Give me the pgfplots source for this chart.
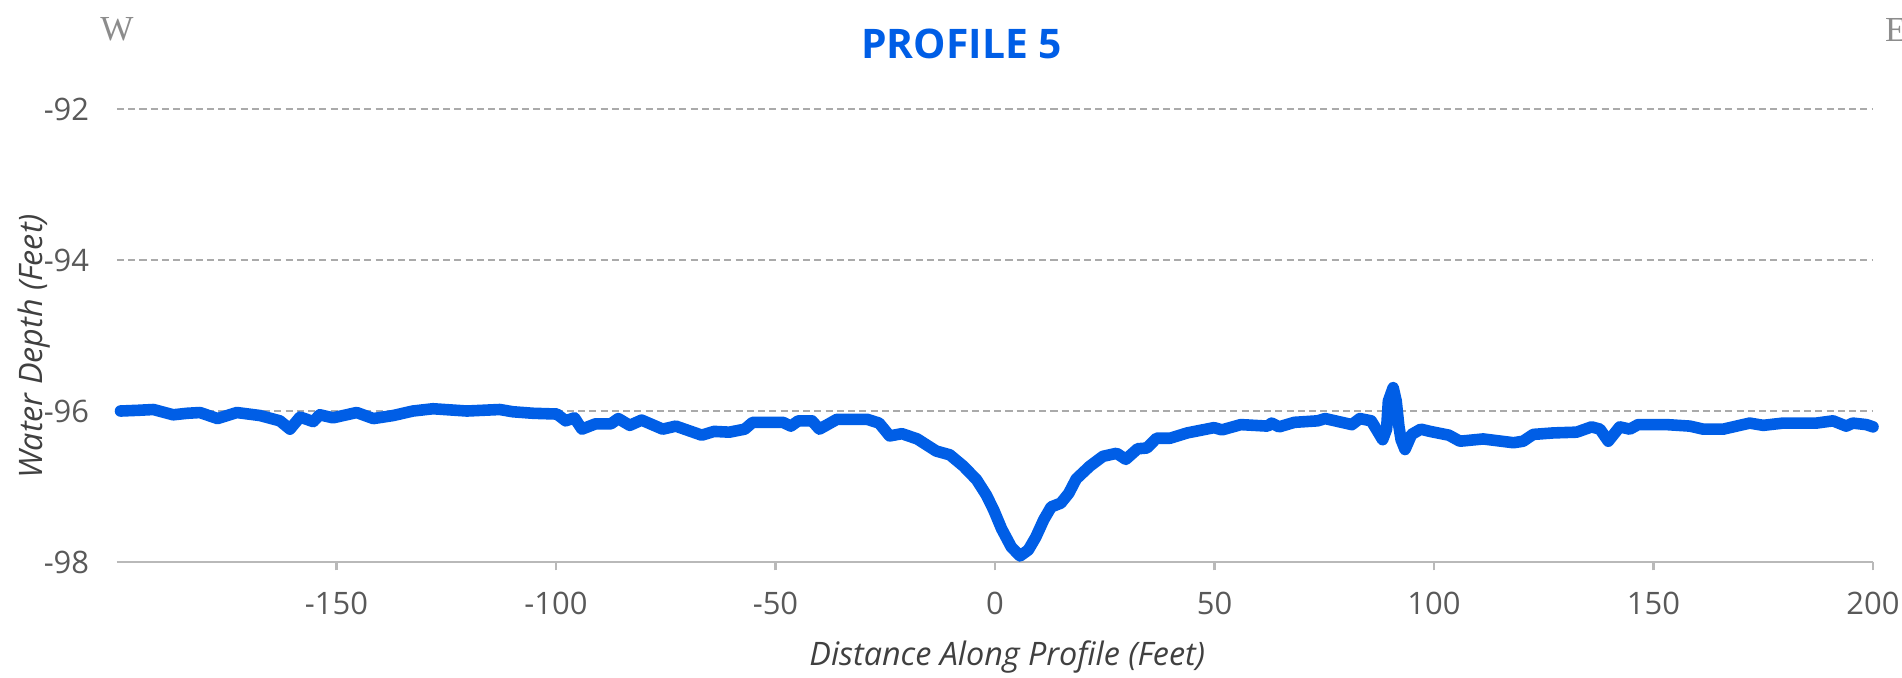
\documentclass[border=0pt]{standalone}
\usepackage{pgfplots}
\pgfplotsset{compat=1.18}
\usepackage{fontspec}
\setmainfont{Open Sans}
\newfontfamily\compassfont{Liberation Serif}
\definecolor{lineblue}{RGB}{0,94,230}
\definecolor{tickgray}{RGB}{89,89,89}
\definecolor{labelgray}{RGB}{64,64,64}
\definecolor{gridgray}{RGB}{170,170,170}
\definecolor{axisgray}{RGB}{185,185,185}
\definecolor{compassgray}{RGB}{140,140,140}

% profile data: distance (ft), water depth (ft)
\pgfplotstableread{
x y
-199.2 -96.00
-195.0 -95.99
-191.7 -95.98
-187.2 -96.05
-184.0 -96.03
-181.1 -96.02
-177.1 -96.10
-172.7 -96.02
-167.4 -96.06
-162.9 -96.13
-160.6 -96.24
-158.3 -96.08
-155.3 -96.14
-153.8 -96.05
-150.8 -96.09
-145.4 -96.02
-141.6 -96.10
-137.1 -96.06
-132.6 -96.00
-128.0 -95.97
-120.3 -96.00
-112.8 -95.98
-109.8 -96.01
-105.2 -96.03
-99.8 -96.04
-97.8 -96.13
-95.8 -96.09
-94.1 -96.24
-91.0 -96.17
-87.5 -96.17
-85.8 -96.10
-83.2 -96.19
-80.5 -96.12
-75.7 -96.24
-72.7 -96.20
-66.8 -96.32
-64.0 -96.27
-60.5 -96.28
-57.0 -96.24
-55.2 -96.15
-48.3 -96.15
-46.5 -96.20
-44.8 -96.13
-41.7 -96.13
-40.0 -96.24
-36.0 -96.11
-29.1 -96.11
-26.4 -96.16
-24.0 -96.33
-21.2 -96.30
-17.7 -96.37
-13.4 -96.53
-10.3 -96.58
-7.2 -96.73
-4.2 -96.91
-2.0 -97.11
-0.3 -97.31
1.5 -97.56
3.7 -97.80
5.7 -97.92
7.6 -97.84
9.3 -97.67
11.1 -97.44
12.8 -97.27
15.0 -97.22
16.8 -97.09
18.5 -96.90
21.6 -96.73
24.6 -96.60
27.7 -96.56
29.8 -96.64
32.5 -96.50
34.6 -96.49
36.8 -96.36
39.9 -96.36
43.8 -96.29
49.9 -96.22
51.7 -96.25
56.0 -96.18
62.1 -96.20
63.0 -96.16
64.7 -96.21
68.2 -96.15
73.5 -96.13
75.2 -96.10
81.3 -96.18
83.1 -96.10
85.7 -96.13
88.3 -96.38
89.2 -96.24
89.6 -95.87
90.7 -95.69
91.4 -95.87
92.0 -96.20
92.5 -96.38
93.4 -96.51
94.9 -96.31
97.0 -96.24
99.1 -96.27
103.4 -96.32
105.9 -96.40
111.2 -96.37
118.1 -96.42
120.3 -96.40
122.6 -96.31
127.2 -96.29
132.5 -96.28
135.9 -96.21
137.8 -96.24
139.7 -96.40
142.3 -96.21
144.6 -96.24
146.5 -96.18
153.0 -96.18
158.3 -96.20
161.3 -96.24
165.9 -96.24
171.9 -96.16
175.0 -96.19
179.5 -96.16
187.1 -96.16
190.9 -96.13
193.9 -96.20
195.4 -96.16
198.5 -96.18
200.0 -96.21
}\profiledata

\begin{document}
\begin{tikzpicture}
\useasboundingbox (-1.17,-1.15) rectangle (17.85,5.62);
\begin{axis}[
  at={(0,0)}, anchor=south west,
  scale only axis,
  width=17.56cm, height=4.53cm,
  xmin=-200, xmax=200,
  ymin=-98, ymax=-92,
  xtick={-150,-100,...,200},
  ytick={-98,-96,-94,-92},
  axis x line*=bottom,
  axis y line*=left,
  y axis line style={draw=none},
  x axis line style={axisgray, line width=0.8pt, -},
  xtick style={axisgray, line width=0.8pt},
  ytick style={draw=none},
  tick align=outside,
  major tick length=2.4pt,
  ymajorgrids,
  grid style={gridgray, line width=0.6pt, dash pattern=on 2pt off 1.2pt},
  ticklabel style={font=\fontsize{8.8}{10}\selectfont, text=tickgray},
  /pgf/number format/assume math mode=true,
  xticklabel style={yshift=-2.5pt},
  yticklabel style={xshift=-2pt},
  xlabel={\itshape Distance Along Profile (Feet)},
  ylabel={\itshape Water Depth (Feet)},
  label style={font=\fontsize{9.2}{11}\selectfont, text=labelgray},
  xlabel style={at={(axis description cs:0.507,-0.21)}, anchor=center},
  ylabel style={at={(axis description cs:-0.047,0.476)}, anchor=center},
  title={\bfseries PROFILE 5},
  title style={at={(axis description cs:0.481,1.143)}, anchor=center, yshift=-6pt,
    font=\fontsize{11.6}{13}\selectfont, text=lineblue},
  clip=false,
]
\addplot[lineblue, line width=3.3pt, line join=round, line cap=round] table[x=x, y=y] {\profiledata};
\node[font=\compassfont\fontsize{10}{12}\selectfont, text=compassgray, anchor=center]
  at (axis description cs:0.0,1.175) {W};
\node[font=\compassfont\fontsize{10}{12}\selectfont, text=compassgray, anchor=center]
  at (axis description cs:1.013,1.175) {E};
\end{axis}
\end{tikzpicture}
\end{document}
